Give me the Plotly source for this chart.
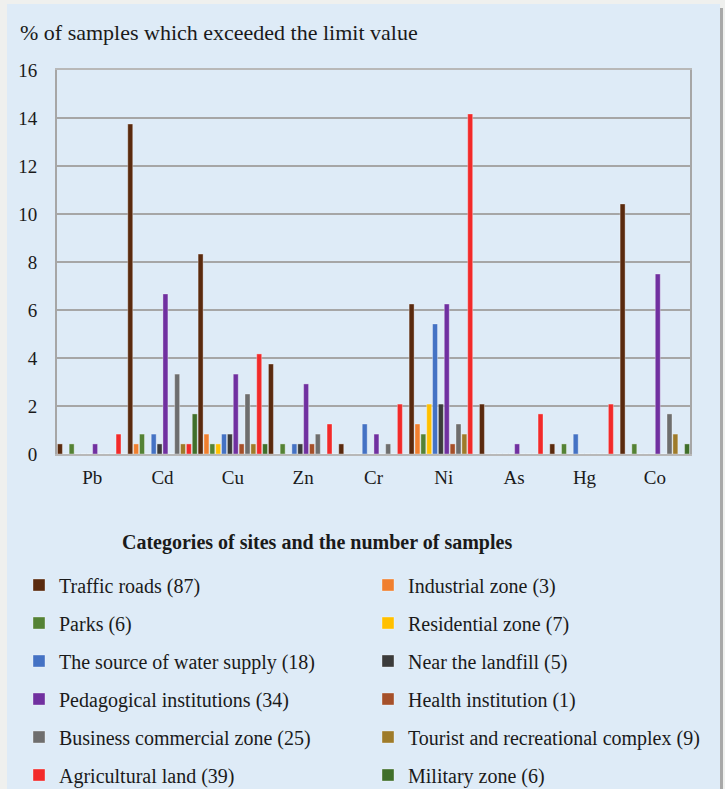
import plotly.graph_objs as go

metals = ["Pb", "Cd", "Cu", "Zn", "Cr", "Ni", "As", "Hg", "Co"]

site_names = [
    "Traffic roads (87)", "Industrial zone (3)", "Parks (6)", "Residential zone (7)",
    "The source of water supply (18)", "Near the landfill (5)", "Pedagogical institutions (34)",
    "Health institution (1)", "Business commercial zone (25)", "Tourist and recreational complex (9)",
    "Agricultural land (39)", "Military zone (6)",
]

# % of samples per metal (Pb, Cd, Cu, Zn, Cr, Ni, As, Hg, Co)
traffic = [0.42, 13.75, 8.33, 3.75, 0.42, 6.25, 2.08, 0.42, 10.42]
industrial = [0, 0.42, 0.83, 0, 0, 1.25, 0, 0, 0]
parks = [0.42, 0.83, 0.42, 0.42, 0, 0.83, 0, 0.42, 0.42]
residential = [0, 0, 0.42, 0, 0, 2.08, 0, 0, 0]
water = [0, 0.83, 0.83, 0.42, 1.25, 5.42, 0, 0.83, 0]
landfill = [0, 0.42, 0.83, 0.42, 0, 2.08, 0, 0, 0]
pedagogical = [0.42, 6.67, 3.33, 2.92, 0.83, 6.25, 0.42, 0, 7.5]
health = [0, 0, 0.42, 0.42, 0, 0.42, 0, 0, 0]
business = [0, 3.33, 2.5, 0.83, 0.42, 1.25, 0, 0, 1.67]
tourist = [0, 0.42, 0.42, 0, 0, 0.83, 0, 0, 0.83]
agricultural = [0.83, 0.42, 4.17, 1.25, 2.08, 14.17, 1.67, 2.08, 0]
military = [0, 1.67, 0.42, 0, 0, 0, 0, 0, 0.42]

series = [traffic, industrial, parks, residential, water, landfill,
          pedagogical, health, business, tourist, agricultural, military]

colors = ["#5A2A0E", "#F07F2F", "#548235", "#FFC000", "#4472C4", "#3B3B3B",
          "#7030A0", "#A5502A", "#6E6E6E", "#9E7B2A", "#F22A2A", "#3F6F2A"]

W, H = 725, 789
L, R, T, B = 57, 690, 70, 454

def cx(p):
    return p / W

def cy(p):
    return 1 - p / H

def px(p):
    return (p - L) / (R - L)

def py(p):
    return (B - p) / (B - T)

FONT = '"Liberation Serif", "Times New Roman", serif'

fig = go.Figure()
for i, (name, vals, col) in enumerate(zip(site_names, series, colors)):
    fig.add_trace(go.Bar(
        x=metals, y=vals, name=name, showlegend=True,
        marker=dict(color=col, line=dict(width=1, color="rgba(255,255,255,0.35)")),
        legend="legend" if i == 0 else "legend%d" % (i + 1),
    ))

# one small legend per entry, laid out in two columns like the original
legends = {}
row_y = [585, 623, 661, 699, 737, 775]
for i in range(12):
    key = "legend" if i == 0 else "legend%d" % (i + 1)
    col = i % 2
    row = i // 2
    legends[key] = dict(
        xref="container", yref="container",
        x=cx(19 if col == 0 else 368), xanchor="left",
        y=cy(row_y[row]), yanchor="middle",
        bgcolor="rgba(0,0,0,0)", borderwidth=0,
        font=dict(family=FONT, size=20, color="#1a1a1a"),
        itemwidth=30,
    )

fig.update_layout(
    width=W, height=H,
    margin=dict(l=L, r=W - R, t=T, b=H - B, autoexpand=False),
    paper_bgcolor="#EFF0EE",
    plot_bgcolor="#DEEBF7",
    showlegend=True,
    barmode="group", bargap=0, bargroupgap=0.15,
    font=dict(family=FONT, size=19, color="#1a1a1a"),
    **legends,
)

fig.update_xaxes(
    showgrid=False, showline=True, linecolor="#B8B8B8", linewidth=2, mirror=True,
    ticks="outside", ticklen=5, tickcolor="rgba(0,0,0,0)",
    tickfont=dict(family=FONT, size=19, color="#1a1a1a"),
)
fig.update_yaxes(
    range=[0, 16], dtick=2, showgrid=True, gridcolor="#A6A6A6", gridwidth=2,
    showline=True, linecolor="#A6A6A6", linewidth=2, mirror=True, zeroline=False,
    ticks="outside", ticklen=14, tickcolor="rgba(0,0,0,0)",
    tickfont=dict(family=FONT, size=19, color="#1a1a1a"),
)

# light blue panel with a grey edge on the right
fig.add_shape(type="rect", xref="paper", yref="paper", layer="below",
              x0=px(720), x1=px(723), y0=py(789), y1=py(8),
              fillcolor="#A8A8A8", line=dict(width=0))
fig.add_shape(type="rect", xref="paper", yref="paper", layer="below",
              x0=px(7), x1=px(720), y0=py(789), y1=py(4),
              fillcolor="#DEEBF7", line=dict(width=0))

fig.add_annotation(text="% of samples which exceeded the limit value",
                   xref="paper", yref="paper", x=px(18), y=py(33),
                   xanchor="left", yanchor="middle", showarrow=False,
                   font=dict(family=FONT, size=22, color="#1a1a1a"))
fig.add_annotation(text="<b>Categories of sites and the number of samples</b>",
                   xref="paper", yref="paper", x=px(317), y=py(542),
                   xanchor="center", yanchor="middle", showarrow=False,
                   font=dict(family=FONT, size=20, color="#1a1a1a"))

fig.write_html("out.html", config={"displayModeBar": False},
               post_script="document.body.style.margin='0';")
